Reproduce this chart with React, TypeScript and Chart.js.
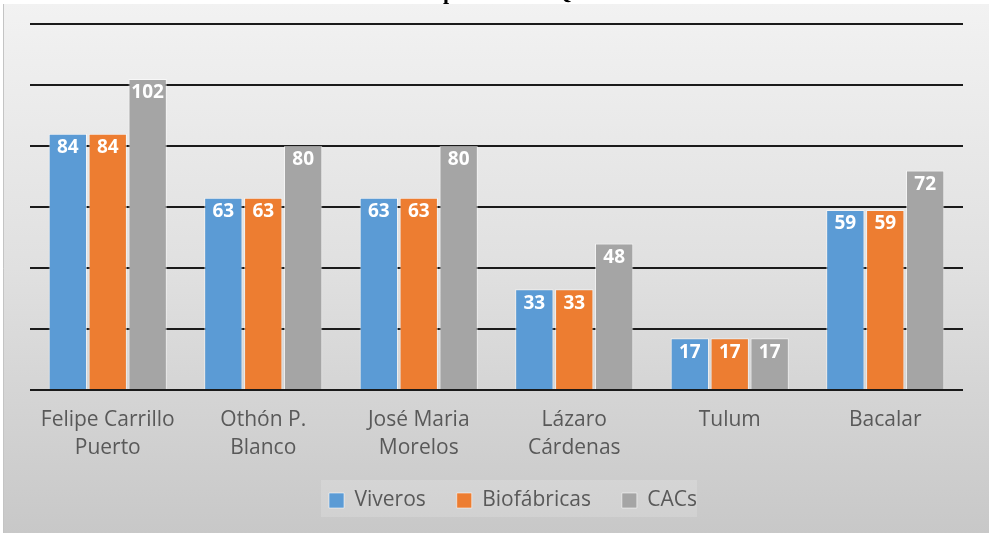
import React, { useEffect, useRef } from "react";
import { Chart, registerables } from "chart.js";

Chart.register(...registerables);

const categories: string[][] = [
  ["Felipe Carrillo", "Puerto"],
  ["Othón P.", "Blanco"],
  ["José Maria", "Morelos"],
  ["Lázaro", "Cárdenas"],
  ["Tulum"],
  ["Bacalar"],
];
const viveros = [84, 63, 63, 33, 17, 59];
const biofabricas = [84, 63, 63, 33, 17, 59];
const cacs = [102, 80, 80, 48, 17, 72];
const seriesNames = ["Viveros", "Biofábricas", "CACs"];
const titlePrefix = "Centros de ";
const titleRest = "producción Quintana Roo";
const LEGEND_SHIFT = 22;
const LEGEND_PAD = 20;

const bgPlugin = {
  id: "bgPanel",
  afterLayout(chart: any) {
    const lg = chart.legend;
    if (lg) {
      lg.left += LEGEND_SHIFT;
      lg.right += LEGEND_SHIFT;
    }
  },
  beforeDraw(chart: any) {
    const { ctx, width, height } = chart;
    ctx.save();
    ctx.fillStyle = "#ffffff";
    ctx.fillRect(0, 0, width, height);
    const g = ctx.createLinearGradient(0, 4, 0, height);
    g.addColorStop(0, "#f2f2f2");
    g.addColorStop(0.5, "#e0e0e0");
    g.addColorStop(1, "#c8c8c8");
    ctx.fillStyle = g;
    ctx.fillRect(3, 4, width - 6, height - 4);
    ctx.strokeStyle = "#c4c4c4";
    ctx.lineWidth = 1;
    ctx.beginPath();
    ctx.moveTo(3.5, 4);
    ctx.lineTo(3.5, height);
    ctx.stroke();
    const lg = chart.legend;
    if (lg && lg.lineWidths && lg.lineWidths.length) {
      const lw = lg.lineWidths[0];
      const x0 = (lg.left + LEGEND_PAD + lg.right - lw) / 2;
      const l = x0 - 8;
      const r = x0 + lw - LEGEND_PAD - 11;
      const t = lg.top + LEGEND_PAD - 10;
      ctx.fillStyle = "rgba(255,255,255,0.16)";
      ctx.fillRect(l, t, r - l, 37);
    }
    ctx.fillStyle = "#000000";
    ctx.font = "bold 22px 'Liberation Serif', serif";
    ctx.textBaseline = "alphabetic";
    ctx.textAlign = "left";
    const pw = ctx.measureText(titlePrefix).width;
    ctx.fillText(titlePrefix + titleRest, 443 - pw, -1);
    ctx.restore();
  },
};

const labelPlugin = {
  id: "valueLabels",
  afterDatasetsDraw(chart: any) {
    const { ctx } = chart;
    ctx.save();
    ctx.fillStyle = "#ffffff";
    ctx.font = "bold 19px 'Open Sans', sans-serif";
    ctx.textAlign = "center";
    ctx.textBaseline = "middle";
    chart.data.datasets.forEach((ds: any, i: number) => {
      const meta = chart.getDatasetMeta(i);
      meta.data.forEach((bar: any, j: number) => {
        ctx.fillText(String(ds.data[j]), bar.x, bar.y + 14);
      });
    });
    ctx.restore();
  },
};

export default function App() {
  const ref = useRef<HTMLCanvasElement>(null);
  useEffect(() => {
    if (!ref.current) return;
    const mk = (label: string, data: number[], color: string) => ({
      label,
      data,
      backgroundColor: color,
      borderColor: "rgba(255,255,255,0.55)",
      borderWidth: 1,
      barPercentage: 0.96,
      categoryPercentage: 0.77,
    });
    const chart = new Chart(ref.current, {
      type: "bar",
      data: {
        labels: categories,
        datasets: [
          mk(seriesNames[0], viveros, "#5b9bd5"),
          mk(seriesNames[1], biofabricas, "#ed7d31"),
          mk(seriesNames[2], cacs, "#a5a5a5"),
        ],
      },
      options: {
        animation: false,
        responsive: false,
        maintainAspectRatio: false,
        layout: { padding: { left: 30, right: 29, top: 24, bottom: 12 } },
        plugins: {
          legend: {
            position: "bottom",
            labels: {
              font: { family: "'Open Sans', sans-serif", size: 21 },
              color: "#595959",
              boxWidth: 15,
              boxHeight: 15,
              padding: LEGEND_PAD,
              generateLabels: (c: any) =>
                Chart.defaults.plugins.legend.labels
                  .generateLabels(c)
                  .map((l: any) => ({ ...l, text: l.text + "  " })),
            },
          },
          tooltip: { enabled: false },
          title: { display: false },
        },
        scales: {
          x: {
            grid: { display: false },
            border: { display: false },
            ticks: {
              font: { family: "'Open Sans', sans-serif", size: 21, lineHeight: 1.333 },
              color: "#595959",
              padding: 8,
              maxRotation: 0,
              autoSkip: false,
            },
          },
          y: {
            min: 0,
            max: 120,
            ticks: { display: false, stepSize: 20 },
            border: { display: false },
            grid: { color: "#1a1a1a", lineWidth: 2, drawTicks: false },
          },
        },
      },
      plugins: [bgPlugin, labelPlugin],
    });
    return () => chart.destroy();
  }, []);
  return (
    <div style={{ position: "fixed", left: 0, top: 0, width: 992, height: 533 }}>
      <canvas ref={ref} width={992} height={533} style={{ width: 992, height: 533 }} />
    </div>
  );
}
